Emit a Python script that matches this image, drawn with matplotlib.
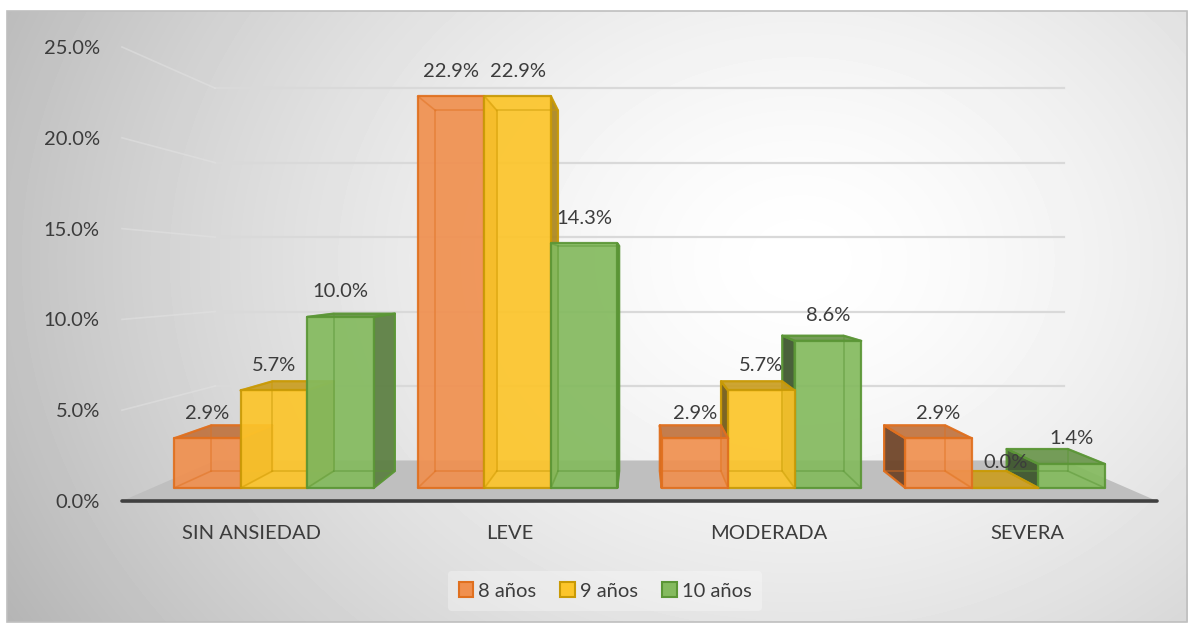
import numpy as np
import matplotlib
matplotlib.use("Agg")
import matplotlib.pyplot as plt
from matplotlib.colors import to_rgb
from matplotlib.patches import Polygon, Patch, Rectangle

# Data
categories = ["SIN ANSIEDAD", "LEVE", "MODERADA", "SEVERA"]
series = ["8 años", "9 años", "10 años"]
age8 = [2.9, 22.9, 2.9, 2.9]
age9 = [5.7, 22.9, 5.7, 0.0]
age10 = [10.0, 14.3, 8.6, 1.4]
yticks = [0, 5, 10, 15, 20, 25]

face_colors = ["#F0904F", "#FCC52A", "#84BA5E"]
edge_colors = ["#E0701F", "#C99A06", "#5B9636"]
TEXT = "#3C3C3C"
FS = 14.5

plt.rcParams["font.family"] = ["Lato", "DejaVu Sans"]

# perspective: points are pulled toward a vanishing point (front plane units)
VX, VY = 1.5, 12.4
S_FRONT, S_BACK, S_WALL = 0.942, 0.867, 0.82
BAR_W = 0.273


def proj(x, y, s):
    return (VX + (x - VX) * s, VY + (y - VY) * s)


def darker(c, f):
    return tuple(np.array(to_rgb(c)) * f)


def draw_box(ax, x0, x1, v, fc, ec):
    f = lambda x, y: proj(x, y, S_FRONT)
    b = lambda x, y: proj(x, y, S_BACK)
    faces = []
    if x1 < VX:
        faces.append(([f(x1, 0), b(x1, 0), b(x1, v), f(x1, v)], darker(fc, 0.68)))
    if x0 > VX:
        faces.append(([f(x0, 0), b(x0, 0), b(x0, v), f(x0, v)], darker(fc, 0.45)))
    if v < VY:
        faces.append(([f(x0, v), f(x1, v), b(x1, v), b(x0, v)], darker(fc, 0.8)))
    faces.append(([f(x0, 0), f(x1, 0), f(x1, v), f(x0, v)], fc))
    for pts, col in faces:
        ax.add_patch(Polygon(pts, closed=True, fc=col, ec=ec, lw=1.6,
                             alpha=0.92, joinstyle="round", zorder=3))
    # back edges showing through the transparent faces
    hidden = [[b(x0, 0), b(x1, 0), b(x1, v), b(x0, v), b(x0, 0)],
              [f(x0, 0), b(x0, 0)], [f(x1, 0), b(x1, 0)],
              [f(x0, v), b(x0, v)], [f(x1, v), b(x1, v)]]
    for line in hidden:
        xs, ys = zip(*line)
        ax.plot(xs, ys, color=ec, lw=1.2, alpha=0.5, zorder=3)


W, H = 1188, 623
fig = plt.figure(figsize=(W / 100, H / 100), dpi=100)

# chart area background with radial shading
bg = fig.add_axes([0, 0, 1, 1])
bg.set_xlim(0, W)
bg.set_ylim(H, 0)
bg.axis("off")
yy, xx = np.mgrid[11:622, 7:1188]
r = np.hypot(xx - 800, (yy - 260) * 1.25) / 800
shade = 1 - 0.24 * np.clip(r, 0, 1.3) ** 1.5
bg.imshow(shade, cmap="gray", vmin=0, vmax=1, extent=(7, 1188, 622, 11),
          aspect="auto", interpolation="bilinear")
bg.add_patch(Rectangle((7, 11), 1180, 611, fill=False, ec="#BFBFBF", lw=1.2))

# plot area = front plane
L, R, T, B = 122, 1157, 47, 501
ax = fig.add_axes([L / W, 1 - B / H, (R - L) / W, (B - T) / H])
ax.set_xlim(-0.5, 3.5)
ax.set_ylim(0, 25)
ax.patch.set_visible(False)
for sp in ax.spines.values():
    sp.set_visible(False)

# floor
floor = [proj(-0.5, 0, 1), proj(3.5, 0, 1), proj(3.5, 0, S_WALL), proj(-0.5, 0, S_WALL)]
ax.add_patch(Polygon(floor, closed=True, fc="#BFBFBF", ec="none", zorder=1, clip_on=False))

# gridlines on back wall and left side wall
for t in yticks[1:]:
    p0, p1 = proj(-0.5, t, S_WALL), proj(3.5, t, S_WALL)
    ax.plot([p0[0], p1[0]], [p0[1], p1[1]], color="#D9D9D9", lw=1.6, zorder=1, clip_on=False)
    ax.plot([-0.5, p0[0]], [t, p0[1]], color="#E2E2E2", lw=1.2, alpha=0.55,
            zorder=1, clip_on=False)

ax.plot([-0.5, 3.5], [0, 0], color="#404040", lw=2.6, solid_capstyle="round",
        zorder=2, clip_on=False)

# bars, far ones first
values = [age8, age9, age10]
bars = []
for i in range(len(categories)):
    for j in range(len(series)):
        x0 = i + (j - 1.5) * BAR_W
        bars.append((j, x0, x0 + BAR_W, values[j][i]))
bars.sort(key=lambda bb: -abs((bb[1] + bb[2]) / 2 - VX))
for j, x0, x1, v in bars:
    draw_box(ax, x0, x1, v, face_colors[j], edge_colors[j])

for j, x0, x1, v in bars:
    xc, yc = proj((x0 + x1) / 2, v, S_FRONT)
    ax.annotate(f"{v:.1f}%", (xc, yc), xytext=(0, 25), textcoords="offset pixels",
                ha="center", va="center", fontsize=FS, color=TEXT, zorder=10,
                annotation_clip=False)

ax.set_yticks(yticks)
ax.set_yticklabels([f"{t:.1f}%" for t in yticks])
ax.set_xticks(range(len(categories)))
ax.set_xticklabels(categories)
ax.tick_params(axis="y", length=0, pad=16, labelsize=FS, labelcolor=TEXT)
ax.tick_params(axis="x", length=0, pad=17, labelsize=FS, labelcolor=TEXT)

handles = [Patch(fc=face_colors[k], ec=edge_colors[k], lw=1.5, label=series[k])
           for k in range(len(series))]
leg = fig.legend(handles=handles, loc="center", bbox_to_anchor=(605 / W, 1 - 591 / H),
                 ncol=3, fontsize=FS, frameon=True, handlelength=0.72, handleheight=0.72,
                 handletextpad=0.25, columnspacing=1.2, borderpad=0.55)
leg.get_frame().set_facecolor("white")
leg.get_frame().set_alpha(0.3)
leg.get_frame().set_edgecolor("none")
for txt in leg.get_texts():
    txt.set_color(TEXT)

fig.savefig("out.png", dpi=100)
